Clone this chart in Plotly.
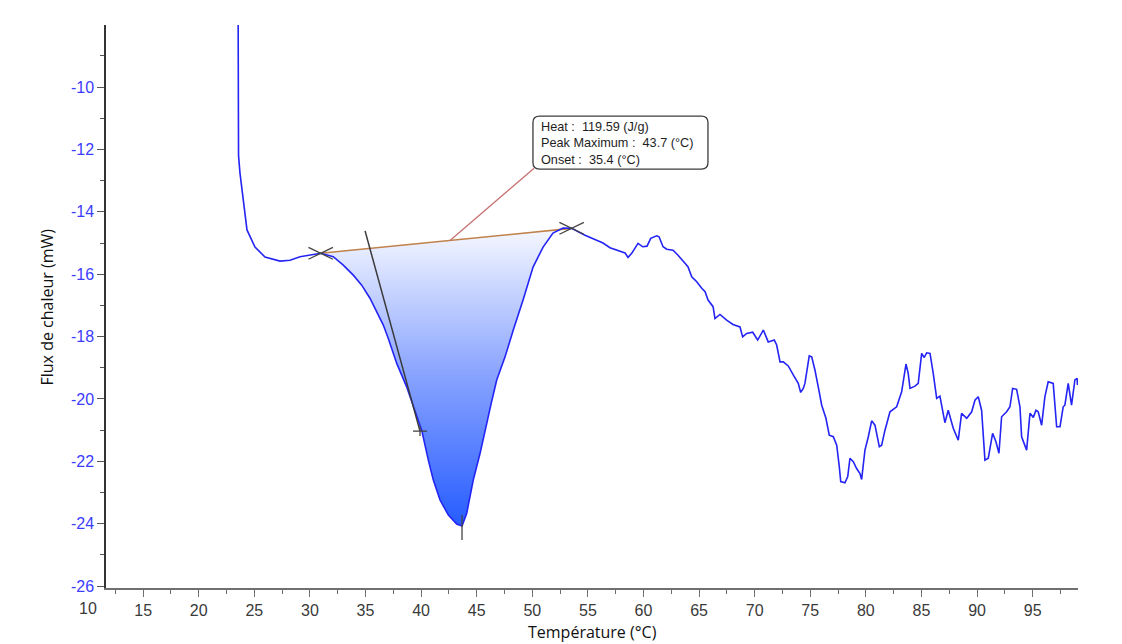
import plotly.graph_objects as go

# ---------------- data ----------------
temp_pre = [23.53, 23.53, 23.58, 23.71, 23.98, 24.34, 25.06, 25.96, 27.31, 28.21, 29.11, 30.01]
flux_pre = [-6.0, -11.60, -12.20, -12.76, -13.62, -14.58, -15.13, -15.45, -15.58, -15.55, -15.44, -15.39]

temp_peak = [30.97, 32.10, 33.00, 33.90, 34.66, 35.40, 36.01, 36.60, 37.05, 37.81, 38.70, 39.30,
             40.05, 40.65, 41.10, 41.70, 42.45, 43.20, 43.68, 44.10, 44.69, 45.30, 45.90, 46.30,
             46.80, 47.55, 48.29, 49.17, 50.07, 50.97, 51.86, 52.76, 53.54]
flux_peak = [-15.33, -15.44, -15.71, -16.03, -16.35, -16.77, -17.20, -17.63, -18.06, -18.86, -19.61, -20.25,
             -21.00, -21.96, -22.60, -23.24, -23.72, -24.01, -24.07, -23.67, -22.60, -21.75, -20.85, -20.15,
             -19.39, -18.65, -17.79, -16.83, -15.77, -15.13, -14.68, -14.52, -14.53]

temp_post = [54.74, 55.79, 56.36, 56.99, 57.89, 58.34, 58.61, 58.94, 59.51, 59.93,
             60.32, 60.65, 61.19, 61.40, 61.76, 62.09, 62.66, 63.11, 63.73, 64.00,
             64.34, 64.79, 65.24, 65.54, 65.81, 66.26, 66.43, 66.88, 67.48, 68.05,
             68.68, 68.92, 69.28, 69.82, 70.27, 70.78, 71.22, 71.76, 71.98, 72.28,
             72.57, 73.02, 73.47, 73.92, 74.14, 74.37, 74.52, 74.91, 75.13, 75.42,
             75.72, 76.03, 76.41, 76.71, 77.07, 77.38, 77.61, 77.74, 78.12, 78.37,
             78.57, 78.87, 79.17, 79.47, 79.62, 79.92, 80.22, 80.52, 80.82, 81.21,
             81.42, 81.72, 82.17, 82.77, 83.22, 83.61, 83.81, 83.97, 84.42, 84.71,
             85.02, 85.25, 85.47, 85.77, 86.06, 86.37, 86.66, 87.11, 87.41, 87.86,
             88.31, 88.61, 89.07, 89.52, 89.81, 90.11, 90.41, 90.71, 91.01, 91.40,
             91.70, 91.97, 92.21, 92.66, 92.96, 93.20, 93.56, 93.86, 94.01, 94.46,
             94.76, 95.06, 95.30, 95.50, 95.81, 96.10, 96.40, 96.85, 97.16, 97.46,
             97.75, 97.90, 98.20, 98.50, 98.80, 99.00, 99.03]
flux_post = [-14.75, -14.91, -15.00, -15.15, -15.26, -15.32, -15.46, -15.33, -15.01, -15.12,
             -15.10, -14.85, -14.77, -14.80, -15.12, -15.20, -15.23, -15.39, -15.65, -15.76,
             -16.08, -16.24, -16.45, -16.56, -16.83, -17.04, -17.42, -17.29, -17.47, -17.61,
             -17.69, -18.01, -17.90, -17.86, -18.11, -17.79, -18.17, -18.11, -18.27, -18.81,
             -18.81, -18.94, -19.23, -19.50, -19.79, -19.66, -19.50, -18.62, -18.65, -19.07,
             -19.61, -20.20, -20.62, -21.16, -21.21, -21.48, -22.17, -22.65, -22.69, -22.49,
             -21.90, -22.01, -22.23, -22.39, -22.58, -21.64, -21.21, -20.70, -20.84, -21.53,
             -21.48, -21.00, -20.41, -20.25, -19.77, -18.88, -19.18, -19.66, -19.59, -19.50,
             -18.54, -18.67, -18.52, -18.54, -19.18, -19.98, -19.91, -20.76, -20.36, -20.94,
             -21.32, -20.46, -20.62, -20.41, -20.04, -19.93, -20.36, -21.96, -21.90, -21.10,
             -21.37, -21.74, -20.57, -20.41, -20.25, -19.66, -19.69, -20.25, -21.21, -21.64,
             -20.46, -20.59, -20.36, -20.41, -20.84, -19.93, -19.45, -19.50, -20.89, -20.89,
             -20.25, -20.20, -19.50, -20.20, -19.39, -19.34, -19.55]

# onset tangent (two points on it) and its "+" mark
onset_temp = [34.96, 39.90]
onset_flux = [-14.61, -21.03]
# peak maximum
peak_temp = 43.68
peak_flux = -24.07
# leader point on the baseline
leader_temp = 42.60

info_lines = ["Heat :\u00a0 119.59 (J/g)", "Peak Maximum :\u00a0 43.7 (°C)", "Onset :\u00a0 35.4 (°C)"]

x_ticks = [15, 20, 25, 30, 35, 40, 45, 50, 55, 60, 65, 70, 75, 80, 85, 90, 95]
y_ticks = [-26, -24, -22, -20, -18, -16, -14, -12, -10]
y_tick_text = ["-26", "-24", "-22", "-20", "-18", "-16", "-14", "-12", "-10"]
x_range = [11.66, 99.08]
y_range = [-26.06, -8.01]

# ---------------- figure ----------------
curve_color = "#2424f4"
fig = go.Figure()

# gradient-filled peak area (closed back along the straight baseline)
fig.add_trace(go.Scatter(
    x=temp_peak, y=flux_peak, mode="lines", fill="toself",
    line=dict(width=0, color="rgba(0,0,0,0)"),
    fillgradient=dict(type="vertical",
                      colorscale=[[0, "rgb(38,92,255)"], [0.5, "rgb(135,162,255)"], [1, "rgb(246,248,255)"]],
                      start=min(flux_peak), stop=max(flux_peak[0], flux_peak[-1])),
    hoverinfo="skip", showlegend=False))

# baseline
base_x = [temp_peak[0], temp_peak[-1]]
base_y = [flux_peak[0], flux_peak[-1]]
fig.add_trace(go.Scatter(x=base_x, y=base_y, mode="lines",
                         line=dict(color="#c0814a", width=1.6), showlegend=False, hoverinfo="skip"))

# main curve
all_t = temp_pre + temp_peak + temp_post
all_f = flux_pre + flux_peak + flux_post
fig.add_trace(go.Scatter(x=all_t, y=all_f, mode="lines",
                         line=dict(color=curve_color, width=1.6), showlegend=False))

# onset tangent
fig.add_trace(go.Scatter(x=onset_temp, y=onset_flux, mode="lines",
                         line=dict(color="#3a3a3a", width=1.5), showlegend=False, hoverinfo="skip"))

# markers: flattened X at baseline ends, + at tangent point, | at peak
dx, dy = 1.1, 0.19
xs, ys = [], []
for bx, by in zip(base_x, base_y):
    xs += [bx - dx, bx + dx, None, bx - dx, bx + dx, None]
    ys += [by - dy, by + dy, None, by + dy, by - dy, None]
px_, py_ = onset_temp[1], onset_flux[1]
xs += [px_ - 0.63, px_ + 0.63, None, px_, px_, None]
ys += [py_, py_, None, py_ - 0.16, py_ + 0.16, None]
xs += [peak_temp, peak_temp]
ys += [peak_flux + 0.35, peak_flux - 0.45]
fig.add_trace(go.Scatter(x=xs, y=ys, mode="lines", line=dict(color="#444444", width=1.3),
                         showlegend=False, hoverinfo="skip"))

# info box
bx0, bx1, by_top, by_bot = 50.06, 65.80, -10.93, -12.63
leader_y = base_y[0] + (leader_temp - base_x[0]) * (base_y[1] - base_y[0]) / (base_x[1] - base_x[0])
fig.add_trace(go.Scatter(x=[leader_temp, bx0 + 0.1], y=[leader_y, by_bot + 0.03], mode="lines",
                         line=dict(color="#c87272", width=1.3), showlegend=False, hoverinfo="skip"))
rx, ry = 0.6, 0.2
path = (f"M {bx0+rx},{by_top} L {bx1-rx},{by_top} Q {bx1},{by_top} {bx1},{by_top-ry} "
        f"L {bx1},{by_bot+ry} Q {bx1},{by_bot} {bx1-rx},{by_bot} L {bx0+rx},{by_bot} "
        f"Q {bx0},{by_bot} {bx0},{by_bot+ry} L {bx0},{by_top-ry} Q {bx0},{by_top} {bx0+rx},{by_top} Z")
fig.add_shape(type="path", path=path, xref="x", yref="y",
              line=dict(color="#3c3c3c", width=1.3), fillcolor="white", layer="above")
line_y = [-11.27, -11.79, -12.33]
for txt, ly in zip(info_lines, line_y):
    fig.add_annotation(x=50.58, y=ly, xref="x", yref="y", text=txt, showarrow=False,
                       xanchor="left", yanchor="middle",
                       font=dict(family="Liberation Sans, Arial", size=12.7, color="#1e1e1e"))

tick_font_x = dict(family="Liberation Sans, Arial", size=16, color="#3a3a3a")
tick_font_y = dict(family="Liberation Sans, Arial", size=16, color="#3c3cff")

# "10" label sits left of the plotting area in the reference
fig.add_annotation(x=(10 - x_range[0]) / (x_range[1] - x_range[0]), y=-0.036, xref="paper", yref="paper",
                   text="10", showarrow=False, xanchor="center", yanchor="middle", font=tick_font_x)

# axis titles
fig.add_annotation(x=0.5, y=-0.078, xref="paper", yref="paper", text="Température (°C)",
                   showarrow=False, xanchor="center", yanchor="middle",
                   font=dict(family="Open Sans", size=16, color="#111111"))
fig.add_annotation(x=-0.0607, y=0.5, xref="paper", yref="paper", text="Flux de chaleur (mW)",
                   showarrow=False, textangle=-90, xanchor="center", yanchor="middle",
                   font=dict(family="Open Sans", size=16, color="#111111"))

fig.update_layout(
    width=1122, height=644,
    margin=dict(l=106, r=44, t=25, b=56),
    paper_bgcolor="white", plot_bgcolor="white",
    showlegend=False,
    xaxis=dict(range=x_range, tickmode="array", tickvals=x_ticks, tickfont=tick_font_x,
               showgrid=False, zeroline=False, showline=True, linecolor="#707070", linewidth=1.5,
               ticks="outside", ticklen=7, tickcolor="#707070", tickwidth=1,
               minor=dict(ticks="outside", ticklen=4, dtick=2.5, tick0=12.5, tickcolor="#707070", showgrid=False)),
    yaxis=dict(range=y_range, tickmode="array", tickvals=y_ticks, ticktext=y_tick_text, tickfont=tick_font_y,
               showgrid=False, zeroline=False, showline=True, linecolor="#333333", linewidth=1.5,
               ticks="outside", ticklen=7, tickcolor="#555555", tickwidth=1,
               minor=dict(ticks="outside", ticklen=4, dtick=1, tick0=-9, tickcolor="#555555", showgrid=False)),
)

fig.write_html("out.html", config={"displayModeBar": False},
               post_script="document.body.style.margin='0px';document.body.style.overflow='hidden';")
